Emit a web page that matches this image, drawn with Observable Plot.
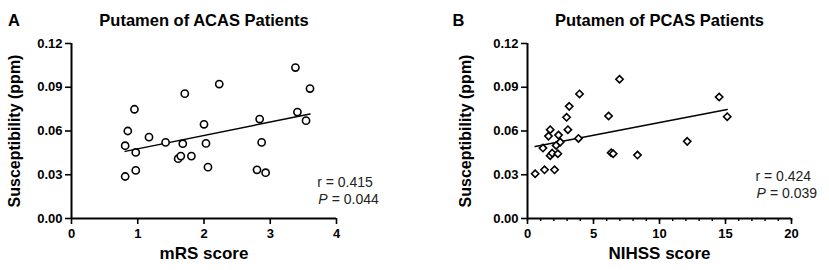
<!DOCTYPE html>
<html>
<head>
<meta charset="utf-8">
<script src="https://cdn.jsdelivr.net/npm/d3@7"></script>
<script src="https://cdn.jsdelivr.net/npm/@observablehq/plot@0.6"></script>
<style>
  body { margin: 0; background: #fff; }
  #wrap { position: relative; width: 829px; height: 270px; display: flex; }
  #wrap svg { display: block; }
</style>
</head>
<body>
<div id="wrap"></div>
<script>
// Panel A: Putamen of ACAS patients
const acasMRS = [0.81,0.81,0.85,0.95,0.97,0.97,1.17,1.42,1.68,1.61,1.65,1.71,1.81,2.00,2.03,2.06,2.23,2.80,2.84,2.87,2.93,3.38,3.41,3.54,3.60];
const acasSus = [0.0288,0.0499,0.0600,0.0749,0.0453,0.0330,0.0558,0.0522,0.0513,0.0410,0.0428,0.0856,0.0428,0.0646,0.0515,0.0352,0.0922,0.0334,0.0682,0.0522,0.0314,0.1035,0.0730,0.0671,0.0891];
// Panel B: Putamen of PCAS patients
const pcasNIHSS = [0.58,1.17,1.29,1.59,1.72,1.72,1.87,2.05,2.17,2.30,2.35,2.48,2.96,3.06,3.16,3.86,3.94,6.14,6.34,6.49,6.97,8.33,12.1,14.52,15.13];
const pcasSus = [0.0307,0.0483,0.0334,0.0565,0.0609,0.0431,0.0448,0.0334,0.0501,0.0444,0.0572,0.0524,0.0694,0.0609,0.0769,0.0549,0.0854,0.0703,0.0451,0.0444,0.0955,0.0435,0.0529,0.0833,0.0698];

const yTicks = [0, 0.03, 0.06, 0.09, 0.12];
const xTicksA = [0, 1, 2, 3, 4];
const xTicksB = [0, 5, 10, 15, 20];
const xMinorB = [0,1,2,3,4,5,6,7,8,9,10,11,12,13,14,15,16,17,18,19,20];

const titles = ["Putamen of ACAS Patients", "Putamen of PCAS Patients"];
const letters = ["A", "B"];
const xLabels = ["mRS score", "NIHSS score"];
const yLabel = "Susceptibility (ppm)";
const rTexts = ["r = 0.415", "r = 0.424"];
const pTexts = ["= 0.044", "= 0.039"];

const FONT = "'Liberation Sans', Arial, Helvetica, sans-serif";

function panel({width, ml, mr, xDomain, xTicks, minor, xs, ys, symbol, title, letter, xLabel, letterDx, yLabDx, annDx, annDy, pDy}) {
  const data = xs.map((x, i) => ({x, y: ys[i]}));
  const mt = 43, mb = 52;
  const marks = [
    Plot.ruleY([0], {stroke: "#000", strokeWidth: 2}),
    Plot.ruleX([xDomain[0]], {stroke: "#000", strokeWidth: 2}),
    Plot.axisY(yTicks, {tickSize: 6, tickPadding: 3, tickFormat: d3.format(".2f"), fontWeight: "bold", fontSize: 13, strokeWidth: 1.6, label: null}),
    Plot.axisX(xTicks, {tickSize: 6, tickPadding: 4, fontWeight: "bold", fontSize: 13, strokeWidth: 1.6, label: null}),
  ];
  if (minor) marks.push(Plot.axisX(minor, {tickSize: 3, text: null, strokeWidth: 1.4, label: null}));
  marks.push(
    Plot.linearRegressionY(data, {x: "x", y: "y", ci: 0, stroke: "#000", strokeWidth: 1.5}),
    Plot.dot(data, {x: "x", y: "y", symbol, r: symbol === "circle" ? 3.6 : 3.3, stroke: "#000", strokeWidth: 1.6, fill: "#fff"}),
    Plot.text([title], {frameAnchor: "top", dy: -29.5, fontSize: 16.5, fontWeight: "bold", fill: "#000"}),
    Plot.text([letter], {frameAnchor: "top-left", dx: letterDx, dy: -29.5, textAnchor: "middle", fontSize: 16.5, fontWeight: "bold", fill: "#000"}),
    Plot.text([xLabel], {frameAnchor: "bottom", dy: 40, fontSize: 17, fontWeight: "bold", fill: "#000"}),
    Plot.text([yLabel], {frameAnchor: "left", dx: yLabDx, rotate: -90, textAnchor: "middle", fontSize: 16, fontWeight: "bold", fill: "#000"}),
    Plot.text([annDx.r], {frameAnchor: "top-left", dx: annDx.x, dy: annDy, textAnchor: "start", fontSize: 14, fill: "#222"}),
    Plot.text(["P"], {frameAnchor: "top-left", dx: annDx.x + 1, dy: pDy, textAnchor: "start", fontSize: 14, fontStyle: "italic", fill: "#222"}),
    Plot.text([annDx.p], {frameAnchor: "top-left", dx: annDx.x + 14.5, dy: pDy, textAnchor: "start", fontSize: 14, fill: "#222"})
  );
  return Plot.plot({
    width, height: 270,
    marginLeft: ml, marginRight: mr, marginTop: mt, marginBottom: mb,
    x: {domain: xDomain},
    y: {domain: [0, 0.12]},
    style: {fontFamily: FONT, background: "#fff", color: "#000", overflow: "visible"},
    marks
  });
}

const wrap = document.getElementById("wrap");
wrap.appendChild(panel({
  width: 414, ml: 71, mr: 78, xDomain: [0, 4], xTicks: xTicksA, minor: null,
  xs: acasMRS, ys: acasSus, symbol: "circle",
  title: titles[0], letter: letters[0], xLabel: xLabels[0],
  letterDx: -57.5, yLabDx: -57, annDx: {x: 245.7, r: rTexts[0], p: pTexts[0]}, annDy: 133.7, pDy: 150.3
}));
wrap.appendChild(panel({
  width: 415, ml: 113, mr: 38, xDomain: [0, 20], xTicks: xTicksB, minor: xMinorB,
  xs: pcasNIHSS, ys: pcasSus, symbol: "diamond2",
  title: titles[1], letter: letters[1], xLabel: xLabels[1],
  letterDx: -69, yLabDx: -62, annDx: {x: 228, r: rTexts[1], p: pTexts[1]}, annDy: 127.7, pDy: 144.3
}));
</script>
</body>
</html>
